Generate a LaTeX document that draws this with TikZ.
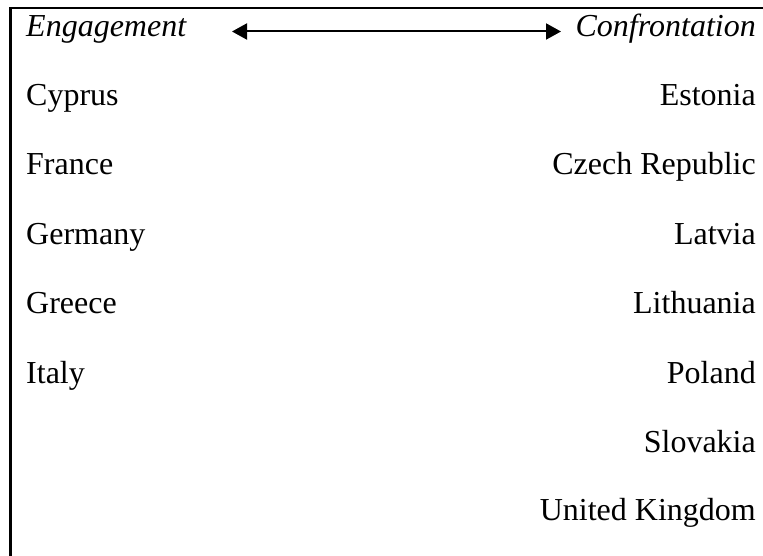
\documentclass[tikz,border=0pt]{standalone}
\usepackage{fontspec}
\setmainfont{Liberation Serif}
\usetikzlibrary{arrows.meta}
\begin{document}
\begin{tikzpicture}[x=1pt,y=-1pt,
  lbl/.style={inner sep=0pt,font=\fontsize{32}{38}\selectfont},
  lft/.style={lbl,anchor=base west},
  rgt/.style={lbl,anchor=base east},
  rule/.style={line width=2.5pt},
  dbl/.style={line width=2pt,{Triangle[length=15pt,width=16pt]}-{Triangle[length=15pt,width=16pt]}}]
\useasboundingbox (0,0) rectangle (763,556);
\coordinate (tl) at (10.5,7.8);
\coordinate (tr) at (763,7.8);
\coordinate (bl) at (10.5,556);
\draw[rule] (tr) -- (tl) -- (bl);
\node[lft] (eng) at (26,37) {\itshape Engagement};
\node[rgt] (con) at (756,37) {\itshape Confrontation};
\coordinate (al) at (232,31.5);
\coordinate (ar) at (561,31.5);
\draw[dbl] (al) -- (ar);
\node[lft] (cy) at (26,106) {Cyprus};
\node[lft] (fr) at (26,175) {France};
\node[lft] (de) at (26,244) {Germany};
\node[lft] (gr) at (26,313) {Greece};
\node[lft] (it) at (26,383) {Italy};
\node[rgt] (ee) at (756,106) {Estonia};
\node[rgt] (cz) at (756,175) {Czech Republic};
\node[rgt] (lv) at (756,244) {Latvia};
\node[rgt] (lt) at (756,313) {Lithuania};
\node[rgt] (pl) at (756,383) {Poland};
\node[rgt] (sk) at (756,452) {Slovakia};
\node[rgt] (uk) at (756,520) {United Kingdom};
\end{tikzpicture}
\end{document}
